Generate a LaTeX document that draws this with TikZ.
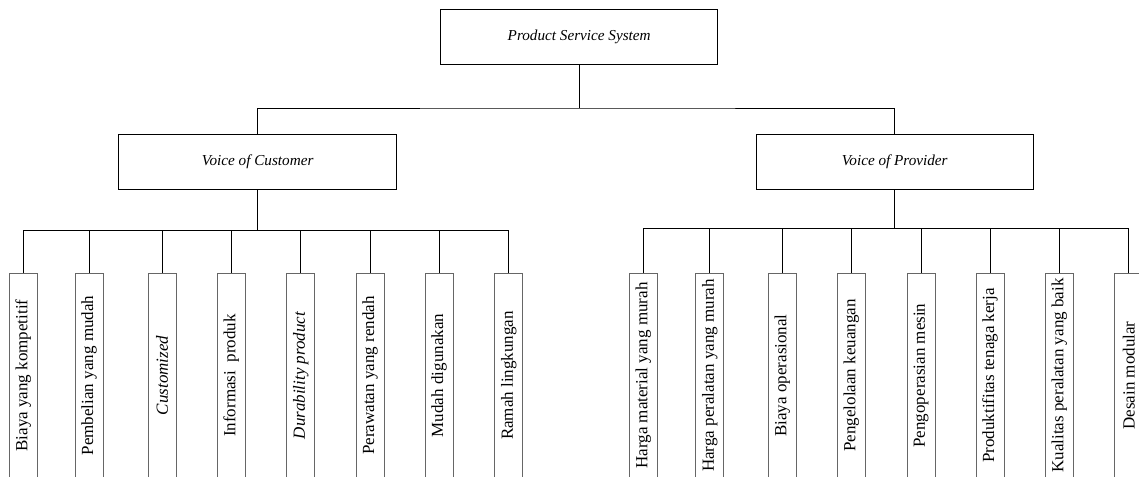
\documentclass[tikz,border=0pt]{standalone}
\usepackage{fontspec}
\usepackage{graphicx}
\setmainfont{Liberation Serif}
\begin{document}
\begin{tikzpicture}[x=1pt,y=-1pt,
  topbox/.style={draw=black, line width=0.8pt, minimum width=277pt, minimum height=55pt,
    inner sep=0pt, font=\fontsize{15.2}{18}\selectfont\itshape},
  leafbox/.style={draw=black!60, line width=1pt, minimum width=28pt, minimum height=205pt,
    inner sep=0pt, font=\fontsize{17}{20}\selectfont},
  link/.style={draw=black, line width=0.8pt}]
\useasboundingbox (0,0) rectangle (1139,476);
\clip (0,0) rectangle (1139,476);

% hierarchy heads
\node[topbox] (pss) at (579.2,36.7) {Product Service System};
\node[topbox, minimum width=278pt] (voc) at (257.7,161.7) {Voice of Customer};
\node[topbox] (vop) at (894.7,161.8) {Voice of Provider};

% customer attributes
\node[leafbox] (c1) at (23.3,375.5) {\rotatebox{90}{Biaya yang kompetitif}};
\node[leafbox] (c2) at (89,375.5) {\rotatebox{90}{Pembelian yang mudah}};
\node[leafbox] (c3) at (162,375.5) {\rotatebox{90}{\itshape Customized}};
\node[leafbox] (c4) at (231.3,375.5) {\rotatebox{90}{Informasi\ \ produk}};
\node[leafbox] (c5) at (300.7,375.5) {\rotatebox{90}{\itshape Durability product}};
\node[leafbox] (c6) at (370,375.5) {\rotatebox{90}{Perawatan yang rendah}};
\node[leafbox] (c7) at (439,375.5) {\rotatebox{90}{Mudah digunakan}};
\node[leafbox] (c8) at (508.7,375.5) {\rotatebox{90}{Ramah lingkungan}};

% provider attributes
\node[leafbox] (p1) at (643.3,375.5) {\rotatebox{90}{Harga material yang murah}};
\node[leafbox] (p2) at (709.7,375.5) {\rotatebox{90}{Harga peralatan yang murah}};
\node[leafbox] (p3) at (782.3,375.5) {\rotatebox{90}{Biaya operasional}};
\node[leafbox] (p4) at (851.3,375.5) {\rotatebox{90}{Pengelolaan keuangan}};
\node[leafbox] (p5) at (921,375.5) {\rotatebox{90}{Pengoperasian mesin}};
\node[leafbox] (p6) at (990,375.5) {\rotatebox{90}{Produktifitas tenaga kerja}};
\node[leafbox] (p7) at (1059.3,375.5) {\rotatebox{90}{Kualitas peralatan yang baik}};
\node[leafbox] (p8) at (1128.7,375.5) {\rotatebox{90}{Desain modular}};

% branch points
\coordinate (b0) at (579.2,108);
\coordinate (bc) at (257.7,230.3);
\coordinate (bp) at (894.7,228.3);

% connectors
\draw[link] (pss.south) -- (b0);
\draw[link] (voc.north) |- (b0) -| (vop.north);
\draw[link] (voc.south) -- (bc);
\draw[link] (vop.south) -- (bp);
\foreach \n in {c1,c2,c3,c4,c5,c6,c7,c8}
  \draw[link] (\n.north) |- (bc);
\foreach \n in {p1,p2,p3,p4,p5,p6,p7,p8}
  \draw[link] (\n.north) |- (bp);
\end{tikzpicture}
\end{document}
